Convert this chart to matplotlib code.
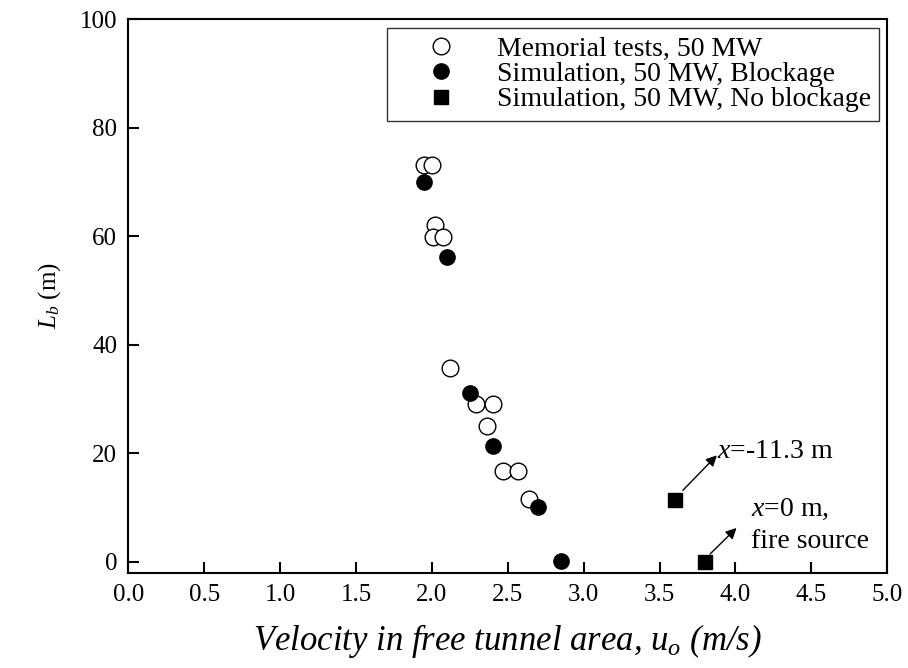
import matplotlib
matplotlib.use("Agg")
import matplotlib.pyplot as plt

# Memorial tunnel tests, 50 MW
test_u = [1.95, 2.00, 2.02, 2.01, 2.07, 2.12, 2.29, 2.40, 2.36, 2.47, 2.57, 2.64]
test_L = [73.2, 73.1, 62.1, 59.9, 59.8, 35.7, 29.1, 29.1, 25.1, 16.8, 16.8, 11.5]

# simulation with blockage
block_u = [1.95, 2.10, 2.25, 2.40, 2.70, 2.85]
block_L = [70.0, 56.2, 31.2, 21.3, 10.1, 0.2]

# simulation without blockage
noblock_u = [3.60, 3.80]
noblock_L = [11.4, 0.0]

plt.rcParams['font.family'] = ['Liberation Serif', 'DejaVu Serif']
plt.rcParams['mathtext.fontset'] = 'custom'
plt.rcParams['mathtext.rm'] = 'Liberation Serif'
plt.rcParams['mathtext.it'] = 'Liberation Serif:italic'

fig = plt.figure(figsize=(9.08, 6.68), dpi=100)
ax = fig.add_axes([0.1413, 0.1427, 0.8359, 0.8284])

ax.plot(test_u, test_L, 'o', ms=12, mfc='white', mec='black', mew=1.0,
        ls='none', label='Memorial tests, 50 MW')
ax.plot(block_u, block_L, 'o', ms=11, mfc='black', mec='black',
        ls='none', label='Simulation, 50 MW, Blockage')
ax.plot(noblock_u, noblock_L, 's', ms=9.5, mfc='black', mec='black',
        ls='none', label='Simulation, 50 MW, No blockage')

arrow = dict(arrowstyle='-|>', color='black', lw=1.0, mutation_scale=16)
ax.annotate('', xy=(3.89, 20.0), xytext=(3.64, 12.8), arrowprops=arrow)
ax.annotate('', xy=(4.02, 6.6), xytext=(3.82, 1.1), arrowprops=arrow)
ax.text(3.88, 20.3, r'$x$=-11.3 m', fontsize=20, va='center', ha='left')
ax.text(4.10, 9.6, r'$x$=0 m,', fontsize=20, va='center', ha='left')
ax.text(4.10, 3.8, 'fire source', fontsize=20, va='center', ha='left')

ax.set_xlim(0, 5)
ax.set_ylim(-2, 100)
ax.set_xticks([0.0, 0.5, 1.0, 1.5, 2.0, 2.5, 3.0, 3.5, 4.0, 4.5, 5.0])
ax.set_xticklabels(['0.0', '0.5', '1.0', '1.5', '2.0', '2.5', '3.0', '3.5', '4.0', '4.5', '5.0'])
ax.set_yticks([0, 20, 40, 60, 80, 100])
ax.tick_params(direction='in', length=8, width=1.5, labelsize=18, pad=8)
for sp in ax.spines.values():
    sp.set_linewidth(1.5)

ax.set_xlabel(r'Velocity in free tunnel area, $u_o$ (m/s)', fontsize=25,
              fontstyle='italic', labelpad=12)
ax.set_ylabel(r'$L_b$ (m)', fontsize=18, labelpad=12)

leg = ax.legend(loc='upper right', fontsize=20, frameon=True, fancybox=False,
                edgecolor='black', borderaxespad=0.3, handlelength=3.3,
                handletextpad=0.35, labelspacing=0.0, borderpad=0.3,
                numpoints=1)
leg.get_frame().set_linewidth(1.0)

fig.savefig('out.png', dpi=100)
